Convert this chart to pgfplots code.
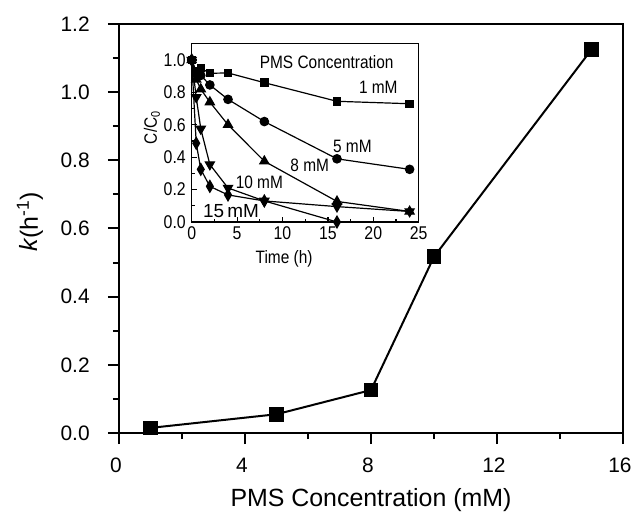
\documentclass[border=0pt]{standalone}
\usepackage{fontspec}
\setmainfont{Liberation Sans}
\newfontfamily\narrowfont[FakeStretch=0.86]{Liberation Sans}
\usepackage{pgfplots}
\pgfplotsset{compat=1.18}
\begin{document}
\begin{tikzpicture}
\useasboundingbox (-119bp,-80bp) rectangle (514bp,433bp);
% ---------- main axis ----------
\begin{axis}[
  at={(0bp,0bp)}, anchor=south west,
  scale only axis, width=504bp, height=409bp,
  line width=2bp,
  xmin=0, xmax=16, ymin=0, ymax=1.2,
  xtick={0,4,8,12,16}, minor xtick={2,6,10,14},
  ytick={0,0.2,0.4,0.6,0.8,1.0,1.2}, minor ytick={0.1,0.3,0.5,0.7,0.9,1.1},
  tick align=outside, xtick pos=bottom, ytick pos=left,
  major tick length=11bp, minor tick length=6bp,
  tick style={line width=2bp, black},
  /pgf/number format/assume math mode=true,
  yticklabel style={/pgf/number format/fixed, /pgf/number format/fixed zerofill, /pgf/number format/precision=1},
  ticklabel style={font=\fontsize{21}{25}\selectfont},
  yticklabel style={xshift=-14bp},
  xticklabel style={yshift=-10bp, xshift=-3bp},
  xlabel={PMS Concentration (mM)},
  ylabel={\textit{k}(h\textsuperscript{-1})},
  label style={font=\fontsize{25}{30}\selectfont},
  x label style={at={(axis description cs:0.5,0)}, anchor=center, yshift=-67bp},
  y label style={at={(axis description cs:-0.1766,0.516)}, anchor=center},
  clip=false,
]
\addplot[line width=2bp, black, mark=square*, mark size=6.3bp, mark options={solid, fill=black}]
  coordinates {(1,0.015) (5,0.055) (8,0.126) (10,0.517) (15,1.125)};
\end{axis}
% ---------- inset ----------
\begin{axis}[
  at={(72.7bp,211bp)}, anchor=south west,
  scale only axis, width=227bp, height=178.2bp,
  line width=1.2bp,
  xmin=0, xmax=25, ymin=0, ymax=1.1,
  xtick={0,5,10,15,20,25}, minor x tick num=1,
  ytick={0,0.2,0.4,0.6,0.8,1.0}, minor y tick num=1,
  tick align=inside, xtick pos=bottom, ytick pos=left,
  major tick length=5bp, minor tick length=3bp,
  tick style={line width=1.2bp, black},
  axis background/.style={fill=white},
  /pgf/number format/assume math mode=true,
  yticklabel style={/pgf/number format/fixed, /pgf/number format/fixed zerofill, /pgf/number format/precision=1},
  ticklabel style={font=\narrowfont\fontsize{18.5}{22}\selectfont},
  yticklabel style={xshift=-2bp},
  xticklabel style={yshift=-1bp},
  xlabel={Time (h)},
  ylabel={C/C\textsubscript{0}},
  label style={font=\narrowfont\fontsize{18}{22}\selectfont},
  x label style={at={(axis description cs:0.407,0)}, anchor=center, yshift=-37bp},
  y label style={at={(axis description cs:-0.175,0.53)}, anchor=center},
  every axis plot/.append style={line width=1.2bp, black},
]
\addplot[mark=square*, mark size=3.6bp, mark options={solid, fill=black}]
  coordinates {(0,1.0) (0.5,0.93) (1,0.95) (2,0.918) (4,0.92) (8,0.86) (16,0.745) (24,0.73)};
\addplot[mark=*, mark size=4.2bp, mark options={solid, fill=black}]
  coordinates {(0,1.0) (0.5,0.92) (1,0.905) (2,0.846) (4,0.757) (8,0.62) (16,0.39) (24,0.325)};
\addplot[mark=triangle*, mark size=5.2bp, mark options={solid, fill=black}]
  coordinates {(0,1.0) (0.5,0.88) (1,0.82) (2,0.74) (4,0.6) (8,0.375) (16,0.127) (24,0.065)};
\addplot[mark=triangle*, mark size=5.2bp, mark options={solid, fill=black, rotate=180}]
  coordinates {(0,1.0) (0.5,0.77) (1,0.575) (2,0.355) (4,0.21) (8,0.13) (16,0.095) (24,0.065)};
\addplot[mark=diamond*, mark size=4.5bp, mark options={solid, fill=black, yscale=1.3}]
  coordinates {(0,1.0) (0.5,0.486) (1,0.325) (2,0.22) (4,0.167) (8,0.13) (16,0.0)};
\node[font=\narrowfont\fontsize{18}{22}\selectfont] at (axis cs:14.87,0.99) {PMS Concentration};
\node[font=\narrowfont\fontsize{18}{22}\selectfont] at (axis cs:20.55,0.83) {1 mM};
\node[font=\narrowfont\fontsize{18}{22}\selectfont] at (axis cs:17.7,0.465) {5 mM};
\node[font=\narrowfont\fontsize{18}{22}\selectfont] at (axis cs:13.0,0.348) {8 mM};
\node[font=\narrowfont\fontsize{18}{22}\selectfont] at (axis cs:7.45,0.245) {10 mM};
\node[font=\fontsize{19}{22}\selectfont] at (axis cs:4.33,0.065) {15\,mM};
\end{axis}
\end{tikzpicture}
\end{document}
